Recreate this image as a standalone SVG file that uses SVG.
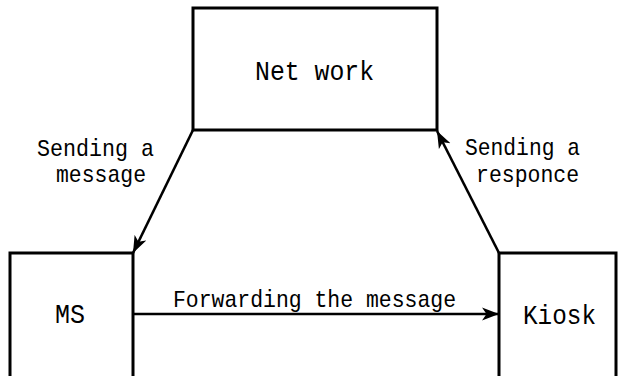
<svg xmlns="http://www.w3.org/2000/svg" width="618" height="376" viewBox="0 0 618 376">
<style>
.box{fill:#fff;stroke:#000;stroke-width:3}
.t{font-family:"Liberation Mono","DejaVu Sans Mono",monospace;fill:#000}
.big{font-size:28px}
.lbl{font-size:24px}
.c{fill:none;stroke:#000;stroke-width:2.6}
</style>
<defs>
<marker id="ah" markerUnits="userSpaceOnUse" markerWidth="18" markerHeight="14" refX="17" refY="7" orient="auto">
<path d="M0,0.5 L17,7 L0,13.5 L4.5,7 z" fill="#000"/>
</marker>
</defs>
<rect width="618" height="376" fill="#fff"/>
<g id="network">
<rect class="box" x="193" y="8" width="244" height="122"/>
<text class="t big" x="255" y="80" textLength="119" lengthAdjust="spacingAndGlyphs">Net work</text>
</g>
<g id="ms">
<rect class="box" x="10" y="253" width="123" height="130"/>
<text class="t big" x="55" y="323" textLength="30" lengthAdjust="spacingAndGlyphs">MS</text>
</g>
<g id="kiosk">
<rect class="box" x="499" y="253" width="117" height="130"/>
<text class="t big" x="523" y="324" textLength="73" lengthAdjust="spacingAndGlyphs">Kiosk</text>
</g>
<g id="connectors">
<line class="c" x1="193" y1="130" x2="133" y2="253" marker-end="url(#ah)"/>
<line class="c" x1="499" y1="253" x2="437" y2="131" marker-end="url(#ah)"/>
<line class="c" x1="133" y1="314" x2="499" y2="314" marker-end="url(#ah)"/>
<text class="t lbl" x="37" y="156" textLength="117" lengthAdjust="spacingAndGlyphs">Sending a</text>
<text class="t lbl" x="56" y="182" textLength="90" lengthAdjust="spacingAndGlyphs">message</text>
<text class="t lbl" x="465" y="155" textLength="115" lengthAdjust="spacingAndGlyphs">Sending a</text>
<text class="t lbl" x="476" y="182" textLength="103" lengthAdjust="spacingAndGlyphs">responce</text>
<text class="t lbl" x="173" y="307" textLength="283" lengthAdjust="spacingAndGlyphs">Forwarding the message</text>
</g>
</svg>
